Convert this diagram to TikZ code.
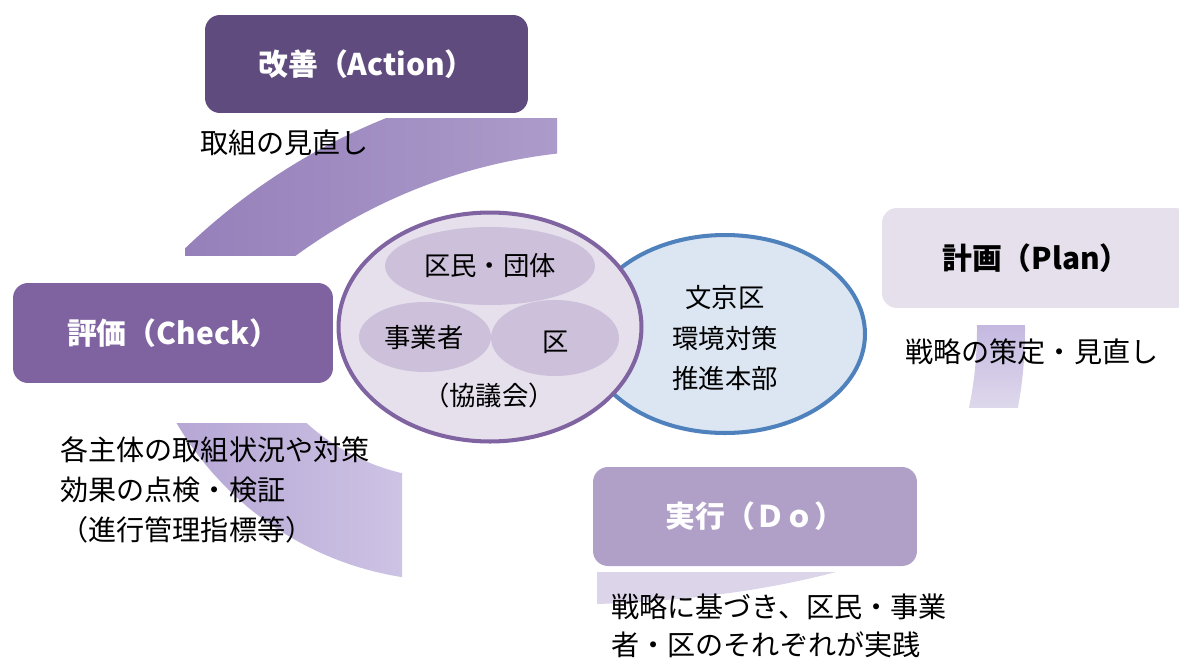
\documentclass[tikz,border=0pt]{standalone}
\usepackage{fontspec}
\newfontfamily\jp{Noto Sans CJK JP}
\usetikzlibrary{shapes.geometric}
\definecolor{actc}{RGB}{95,75,125}
\definecolor{chkc}{RGB}{127,99,161}
\definecolor{plnc}{RGB}{229,224,236}
\definecolor{doc}{RGB}{176,160,200}
\definecolor{kyo}{RGB}{230,224,236}
\definecolor{kyoin}{RGB}{204,192,218}
\definecolor{kyoln}{RGB}{128,100,162}
\definecolor{hon}{RGB}{220,230,242}
\definecolor{honln}{RGB}{79,129,189}
\definecolor{bA1}{RGB}{150,128,186}
\definecolor{bA2}{RGB}{172,155,202}
\definecolor{bC1}{RGB}{168,150,204}
\definecolor{bC2}{RGB}{205,195,228}
\definecolor{bP1}{RGB}{196,184,224}
\definecolor{bP2}{RGB}{222,216,236}
\definecolor{bD}{RGB}{220,212,232}
\tikzset{
  hd/.style = {rectangle, rounded corners=0.3cm, inner sep=0pt,
    font=\jp\bfseries\fontsize{17}{20}\selectfont},
  ds/.style = {anchor=west, align=left, inner sep=0pt,
    font=\jp\fontsize{16}{23}\selectfont},
  cx/.style = {inner sep=0pt, align=center,
    font=\jp\fontsize{15}{22.8}\selectfont},
  ov/.style = {ellipse, inner sep=0pt},
  rim/.style = {line width=2.3pt}
}
\newcommand{\arcband}[5]{%
  \begin{scope}
    \clip #1;
    \begin{scope}[even odd rule]
      \clip #2 circle[radius=#3] #2 circle[radius=#4];
      \shade[#5] #1;
    \end{scope}
  \end{scope}}

\begin{document}
\begin{tikzpicture}[x=0.02cm, y=-0.02cm]
  \fill[white] (0,0) rectangle (1179,660);
  \useasboundingbox (0,0) rectangle (1179,660);
  \arcband{(185,118) rectangle (557,255)}{(620,700)}{550}{627}{left color=bA1, right color=bA2}
  \arcband{(47,423) rectangle (402,600)}{(452,262)}{217}{319}{left color=bC1, right color=bC2}
  \arcband{(880,325) rectangle (1179,407)}{(600,330)}{377}{425}{top color=bP1, bottom color=bP2}
  \fill[bD] (597,572) -- (836,572) .. controls (760,592) and (680,601) .. (597,604) -- cycle;
  \node [hd, fill=actc, text=white, minimum width=6.46cm, minimum height=1.96cm] (act) at (366.5,64) {改善（Action）};
  \node [hd, fill=chkc, text=white, minimum width=6.4cm, minimum height=2cm] (chk) at (173,333) {評価（Check）};
  \node [hd, fill=plnc, text=black, minimum width=6.16cm, minimum height=2cm] (pln) at (1036,258) {計画（Plan）};
  \node [hd, fill=doc, text=white, minimum width=6.48cm, minimum height=1.98cm] (do) at (755,516.5) {実行（Ｄｏ）};
  \node [ds] (acttx) at (200,143) {取組の見直し};
  \node [ds] (chktx) at (60,490) {各主体の取組状況や対策\\効果の点検・検証\\（進行管理指標等）};
  \node [ds] (plntx) at (905,352) {戦略の策定・見直し};
  \node [ds, font=\jp\fontsize{16}{21.6}\selectfont] (dotx) at (611,626) {戦略に基づき、区民・事業\\者・区のそれぞれが実践};
  \node [ov, rim, draw=honln, fill=hon, minimum width=5.6cm, minimum height=3.96cm] (hon) at (725,334) {};
  \node [ov, rim, draw=kyoln, fill=kyo, minimum width=6.06cm, minimum height=4.58cm] (kyo) at (490,327) {};
  \node [ov, fill=kyoin, minimum width=4.2cm, minimum height=1.56cm] (kumin) at (490,266) {};
  \node [ov, fill=kyoin, minimum width=2.64cm, minimum height=1.4cm] (jig) at (425,337) {};
  \node [ov, fill=kyoin, minimum width=2.56cm, minimum height=1.52cm] (ku) at (555,338) {};
  \node [cx] at (kumin) {区民・団体};
  \node [cx] at (424,338) {事業者};
  \node [cx] at (556,342) {区};
  \node [cx] (kyotx) at (489,395) {（協議会）};
  \node [cx] (hontx) at (725,338) {文京区\\環境対策\\推進本部};
\end{tikzpicture}
\end{document}
